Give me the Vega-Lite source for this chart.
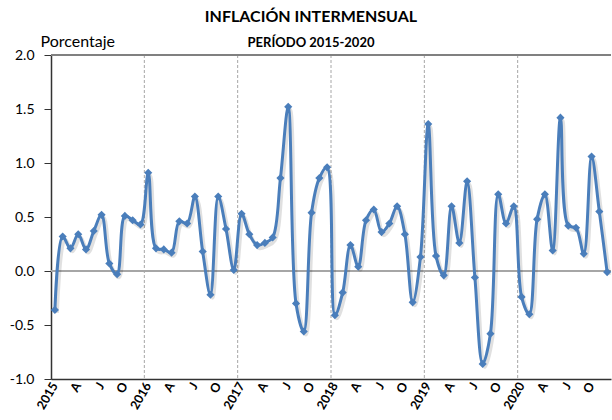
{
  "$schema": "https://vega.github.io/schema/vega-lite/v6.json",
  "autosize": "none",
  "width": 560,
  "height": 324,
  "padding": {"left": 51, "top": 55, "right": 1, "bottom": 41},
  "background": "white",
  "config": {"view": {"stroke": null}, "font": "Lato"},
  "title": {
    "text": "INFLACIÓN INTERMENSUAL",
    "subtitle": "PERÍODO 2015-2020",
    "anchor": "middle",
    "dx": -20,
    "offset": -17,
    "font": "Lato",
    "fontSize": 16,
    "fontWeight": "bold",
    "color": "#000000",
    "subtitleFont": "Lato",
    "subtitleFontSize": 13,
    "subtitleFontWeight": "bold",
    "subtitleColor": "#000000",
    "subtitlePadding": 12
  },
  "data": {
    "values": [
      {"mes": "2015-01", "valor": -0.36}, {"mes": "2015-02", "valor": 0.32}, {"mes": "2015-03", "valor": 0.21}, {"mes": "2015-04", "valor": 0.34},
      {"mes": "2015-05", "valor": 0.20}, {"mes": "2015-06", "valor": 0.37}, {"mes": "2015-07", "valor": 0.52}, {"mes": "2015-08", "valor": 0.07},
      {"mes": "2015-09", "valor": -0.03}, {"mes": "2015-10", "valor": 0.51}, {"mes": "2015-11", "valor": 0.47}, {"mes": "2015-12", "valor": 0.43},
      {"mes": "2016-01", "valor": 0.91}, {"mes": "2016-02", "valor": 0.21}, {"mes": "2016-03", "valor": 0.20}, {"mes": "2016-04", "valor": 0.17},
      {"mes": "2016-05", "valor": 0.46}, {"mes": "2016-06", "valor": 0.44}, {"mes": "2016-07", "valor": 0.69}, {"mes": "2016-08", "valor": 0.18},
      {"mes": "2016-09", "valor": -0.22}, {"mes": "2016-10", "valor": 0.69}, {"mes": "2016-11", "valor": 0.39}, {"mes": "2016-12", "valor": 0.01},
      {"mes": "2017-01", "valor": 0.53}, {"mes": "2017-02", "valor": 0.34}, {"mes": "2017-03", "valor": 0.24}, {"mes": "2017-04", "valor": 0.26},
      {"mes": "2017-05", "valor": 0.31}, {"mes": "2017-06", "valor": 0.86}, {"mes": "2017-07", "valor": 1.52}, {"mes": "2017-08", "valor": -0.30},
      {"mes": "2017-09", "valor": -0.56}, {"mes": "2017-10", "valor": 0.54}, {"mes": "2017-11", "valor": 0.86}, {"mes": "2017-12", "valor": 0.96},
      {"mes": "2018-01", "valor": -0.41}, {"mes": "2018-02", "valor": -0.20}, {"mes": "2018-03", "valor": 0.24}, {"mes": "2018-04", "valor": 0.04},
      {"mes": "2018-05", "valor": 0.47}, {"mes": "2018-06", "valor": 0.57}, {"mes": "2018-07", "valor": 0.36}, {"mes": "2018-08", "valor": 0.44},
      {"mes": "2018-09", "valor": 0.60}, {"mes": "2018-10", "valor": 0.34}, {"mes": "2018-11", "valor": -0.29}, {"mes": "2018-12", "valor": 0.13},
      {"mes": "2019-01", "valor": 1.36}, {"mes": "2019-02", "valor": 0.14}, {"mes": "2019-03", "valor": -0.04}, {"mes": "2019-04", "valor": 0.60},
      {"mes": "2019-05", "valor": 0.26}, {"mes": "2019-06", "valor": 0.83}, {"mes": "2019-07", "valor": -0.06}, {"mes": "2019-08", "valor": -0.86},
      {"mes": "2019-09", "valor": -0.58}, {"mes": "2019-10", "valor": 0.71}, {"mes": "2019-11", "valor": 0.44}, {"mes": "2019-12", "valor": 0.60},
      {"mes": "2020-01", "valor": -0.24}, {"mes": "2020-02", "valor": -0.40}, {"mes": "2020-03", "valor": 0.48}, {"mes": "2020-04", "valor": 0.71},
      {"mes": "2020-05", "valor": 0.19}, {"mes": "2020-06", "valor": 1.42}, {"mes": "2020-07", "valor": 0.42}, {"mes": "2020-08", "valor": 0.40},
      {"mes": "2020-09", "valor": 0.16}, {"mes": "2020-10", "valor": 1.06}, {"mes": "2020-11", "valor": 0.55}, {"mes": "2020-12", "valor": -0.01}
    ]
  },
  "encoding": {
    "x": {
      "field": "mes",
      "type": "ordinal",
      "scale": {"type": "band", "paddingInner": 0, "paddingOuter": 0},
      "axis": {
        "title": null,
        "ticks": false,
        "domainColor": "#333333",
        "domainWidth": 1.5,
        "labelAngle": -60,
        "labelAlign": "right",
        "labelBaseline": "middle",
        "labelFont": "Lato",
        "labelFontSize": 12.5,
        "labelFontWeight": "bold",
        "labelColor": "#000000",
        "labelPadding": 4,
        "labelOverlap": false,
        "labelExpr": "substring(datum.value,5,7)=='01' ? substring(datum.value,0,4) : substring(datum.value,5,7)=='04' ? 'A' : substring(datum.value,5,7)=='07' ? 'J' : substring(datum.value,5,7)=='10' ? 'O' : ''"
      }
    }
  },
  "layer": [
    {
      "transform": [{"filter": "substring(datum.mes,5,7)=='01' && datum.mes != '2015-01'"}],
      "mark": {"type": "rule", "color": "#a6a6a6", "strokeDash": [3, 2], "strokeWidth": 1},
      "encoding": {"x": {"field": "mes", "type": "ordinal", "bandPosition": 0}}
    },
    {
      "mark": {"type": "rule", "color": "#a6a6a6", "strokeWidth": 1.5},
      "encoding": {"y": {"datum": 0, "type": "quantitative"}, "x": null}
    },
    {
      "mark": {"type": "rule", "color": "#808080", "strokeWidth": 1.5},
      "encoding": {"y": {"datum": 2, "type": "quantitative"}, "x": null}
    },
    {
      "mark": {"type": "line", "interpolate": "catmull-rom", "color": "#000000", "opacity": 0.12, "strokeWidth": 4, "xOffset": 2, "yOffset": 3},
      "encoding": {"y": {"field": "valor", "type": "quantitative"}}
    },
    {
      "mark": {"type": "line", "interpolate": "catmull-rom", "color": "#4a7ebb", "strokeWidth": 3},
      "encoding": {
        "y": {
          "field": "valor",
          "type": "quantitative",
          "scale": {"domain": [-1, 2], "nice": false, "zero": false},
          "axis": {
            "values": [-1, -0.5, 0, 0.5, 1, 1.5, 2],
            "labelExpr": "replace(format(datum.value, '.1f'), '\u2212', '-')",
            "grid": false,
            "domainColor": "#333333",
            "domainWidth": 1.5,
            "tickColor": "#333333",
            "tickSize": 7,
            "labelPadding": 10,
            "labelFont": "Lato",
            "labelFontSize": 14,
            "labelColor": "#000000",
            "title": "Porcentaje",
            "titleAngle": 0,
            "titleAlign": "left",
            "titleBaseline": "bottom",
            "titleX": -11,
            "titleY": -6,
            "titleFont": "Lato",
            "titleFontSize": 16,
            "titleFontWeight": "normal",
            "titleColor": "#000000"
          }
        }
      }
    },
    {
      "mark": {"type": "point", "shape": "diamond", "filled": true, "color": "#4a7ebb", "size": 66, "opacity": 1},
      "encoding": {"y": {"field": "valor", "type": "quantitative"}}
    }
  ]
}
